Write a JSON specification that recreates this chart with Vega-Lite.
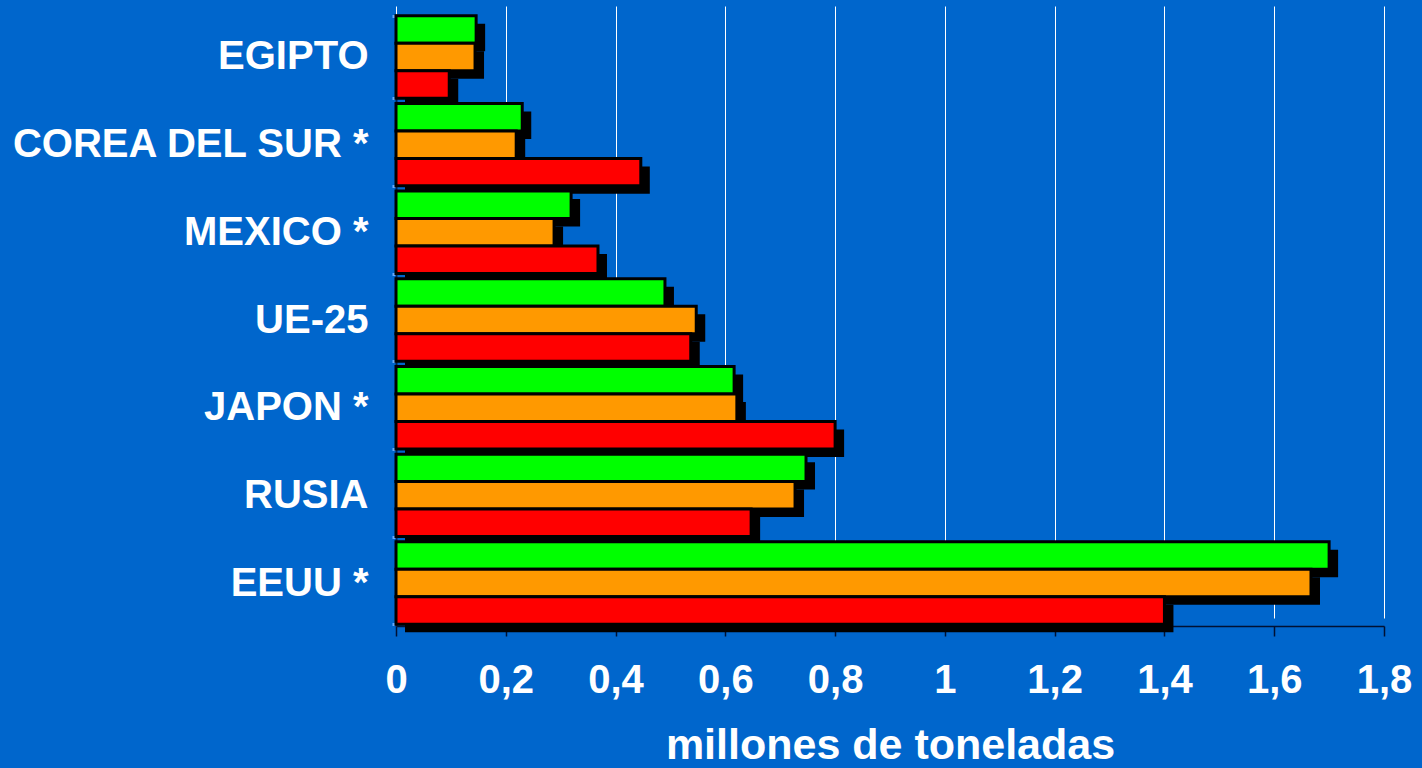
{
  "$schema": "https://vega.github.io/schema/vega-lite/v6.json",
  "width": 988,
  "height": 612,
  "autosize": {"type": "none"},
  "padding": {"left": 396, "top": 14, "right": 38, "bottom": 142},
  "background": "#0066CC",
  "config": {"view": {"stroke": null}},
  "data": {
    "values": [
      {"pais": "EGIPTO", "serie": "s1", "valor": 0.146},
      {"pais": "EGIPTO", "serie": "s2", "valor": 0.144},
      {"pais": "EGIPTO", "serie": "s3", "valor": 0.097},
      {"pais": "COREA DEL SUR *", "serie": "s1", "valor": 0.23},
      {"pais": "COREA DEL SUR *", "serie": "s2", "valor": 0.219},
      {"pais": "COREA DEL SUR *", "serie": "s3", "valor": 0.446},
      {"pais": "MEXICO *", "serie": "s1", "valor": 0.319},
      {"pais": "MEXICO *", "serie": "s2", "valor": 0.288},
      {"pais": "MEXICO *", "serie": "s3", "valor": 0.368},
      {"pais": "UE-25", "serie": "s1", "valor": 0.49},
      {"pais": "UE-25", "serie": "s2", "valor": 0.547},
      {"pais": "UE-25", "serie": "s3", "valor": 0.537},
      {"pais": "JAPON *", "serie": "s1", "valor": 0.616},
      {"pais": "JAPON *", "serie": "s2", "valor": 0.621},
      {"pais": "JAPON *", "serie": "s3", "valor": 0.80},
      {"pais": "RUSIA", "serie": "s1", "valor": 0.747},
      {"pais": "RUSIA", "serie": "s2", "valor": 0.727},
      {"pais": "RUSIA", "serie": "s3", "valor": 0.647},
      {"pais": "EEUU *", "serie": "s1", "valor": 1.70},
      {"pais": "EEUU *", "serie": "s2", "valor": 1.667},
      {"pais": "EEUU *", "serie": "s3", "valor": 1.40}
    ]
  },
  "encoding": {
    "yOffset": {"field": "serie", "type": "nominal", "sort": ["s1", "s2", "s3"], "scale": {"paddingInner": 0, "paddingOuter": 0}},
    "x": {
      "field": "valor",
      "type": "quantitative",
      "scale": {"domain": [0, 1.8], "nice": false},
      "axis": {
        "title": "millones de toneladas",
        "values": [0, 0.2, 0.4, 0.6, 0.8, 1, 1.2, 1.4, 1.6, 1.8],
        "labelExpr": "replace(format(datum.value, '~g'), '.', ',')",
        "labelFont": "Liberation Sans",
        "labelFontWeight": "bold",
        "labelFontSize": 40,
        "labelColor": "white",
        "labelPadding": 24,
        "labelFlush": false,
        "labelOverlap": false,
        "tickColor": "#001133",
        "tickSize": 10,
        "tickWidth": 1.5,
        "domainColor": "#001133",
        "domainWidth": 1.5,
        "grid": true,
        "gridColor": "white",
        "gridWidth": 1,
        "titleFont": "Liberation Sans",
        "titleFontWeight": "bold",
        "titleFontSize": 43,
        "titleColor": "white",
        "titlePadding": 24
      }
    }
  },
  "layer": [
    {
      "mark": {"type": "bar", "color": "black", "xOffset": 9, "opacity": 1},
      "encoding": {
        "y": {
          "field": "pais",
          "type": "nominal",
          "sort": ["EGIPTO", "COREA DEL SUR *", "MEXICO *", "UE-25", "JAPON *", "RUSIA", "EEUU *"],
          "scale": {"paddingInner": 0.06, "paddingOuter": 0.02, "range": [8, 620]},
          "axis": null
        }
      }
    },
    {
      "mark": {"type": "bar", "stroke": "black", "strokeWidth": 3, "opacity": 1},
      "encoding": {
        "y": {
          "field": "pais",
          "type": "nominal",
          "sort": ["EGIPTO", "COREA DEL SUR *", "MEXICO *", "UE-25", "JAPON *", "RUSIA", "EEUU *"],
          "scale": {"paddingInner": 0.06, "paddingOuter": 0.02},
          "axis": {
            "title": null,
            "labelFont": "Liberation Sans",
            "labelFontWeight": "bold",
            "labelFontSize": 40,
            "labelColor": "white",
            "labelPadding": 24,
            "labelLimit": 500,
            "tickBand": "extent",
            "tickColor": "#66AAFF",
            "tickSize": 4,
            "tickWidth": 3,
            "domainColor": "#002255",
            "domainWidth": 2
          }
        },
        "color": {
          "field": "serie",
          "type": "nominal",
          "scale": {"domain": ["s1", "s2", "s3"], "range": ["#00FF00", "#FF9900", "#FF0000"]},
          "legend": null
        }
      }
    }
  ],
  "resolve": {"scale": {"y": "independent"}}
}
